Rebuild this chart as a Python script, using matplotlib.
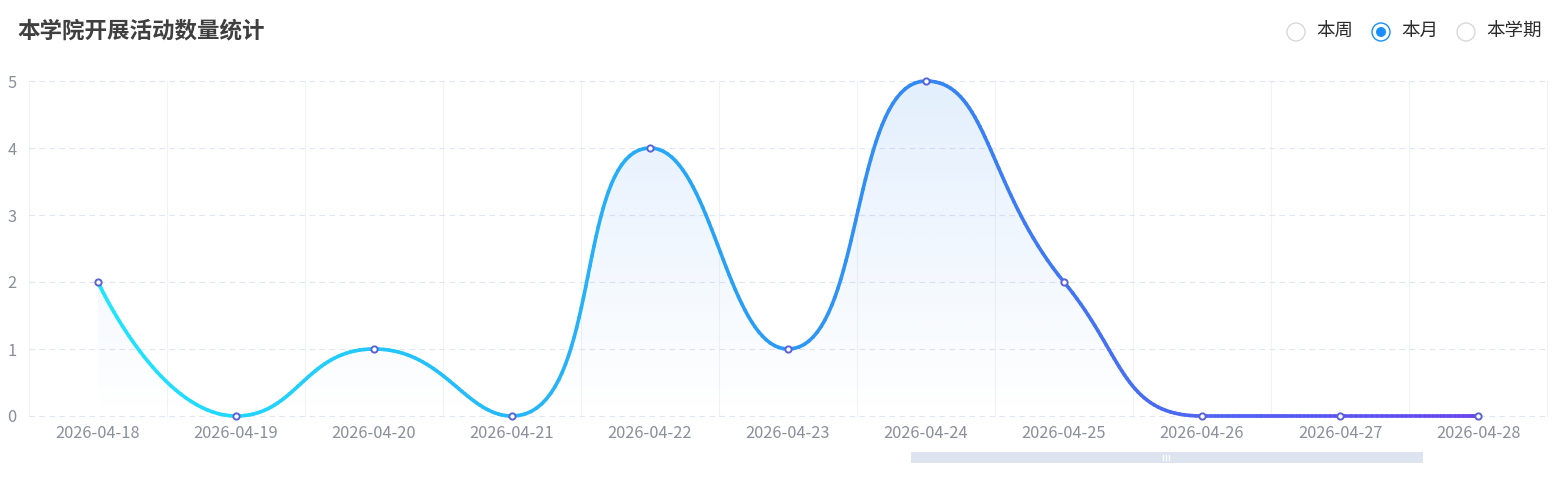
import matplotlib
matplotlib.use('Agg')
import matplotlib.pyplot as plt
import numpy as np
from matplotlib.collections import LineCollection
from matplotlib.colors import LinearSegmentedColormap, to_rgb
from matplotlib.patches import Circle, Rectangle, Polygon

plt.rcParams['font.family'] = ['Noto Sans CJK SC', 'DejaVu Sans']

# data
dates = ['2026-04-18', '2026-04-19', '2026-04-20', '2026-04-21', '2026-04-22',
         '2026-04-23', '2026-04-24', '2026-04-25', '2026-04-26', '2026-04-27',
         '2026-04-28']
counts = [2, 0, 1, 0, 4, 1, 5, 2, 0, 0, 0]
y_ticks = [0, 1, 2, 3, 4, 5]
title = '本学院开展活动数量统计'
radio_labels = ['本周', '本月', '本学期']
radio_selected = 1

W, H = 1556, 482
fig = plt.figure(figsize=(W / 100, H / 100), dpi=100)
fig.patch.set_facecolor('white')

# plot area in pixels: x 29..1547, y(5)=81, y(0)=416
ax = fig.add_axes([29 / W, (H - 416) / H, (1547 - 29) / W, (416 - 81) / H])
ax.set_xlim(-0.5, len(dates) - 0.5)
ax.set_ylim(0, 5)
for s in ax.spines.values():
    s.set_visible(False)

# grids
for k in range(len(dates) + 1):
    ax.axvline(k - 0.5, color='#f1f2f6', lw=0.8, zorder=0, clip_on=False)
for v in y_ticks:
    ax.axhline(v, color='#e0e6f1', lw=0.8, ls=(0, (5, 4)), zorder=0.5, clip_on=False)

ax.set_xticks(range(len(dates)))
ax.set_xticklabels(dates)
ax.set_yticks(y_ticks)
ax.tick_params(length=0, labelcolor='#8a8f9c', labelsize=11.8)
ax.tick_params(axis='x', pad=6.5)
ax.tick_params(axis='y', pad=9)


# echarts-like smooth curve, computed in pixel space
def smooth_path(px, py, smooth=0.5, n_seg=40):
    out_x, out_y = [px[0]], [py[0]]
    cpx0, cpy0 = px[0], py[0]
    n = len(px)
    for i in range(1, n):
        x, y = px[i], py[i]
        prevX, prevY = px[i - 1], py[i - 1]
        nextCpx0, nextCpy0 = x, y
        if i == n - 1:
            cpx1, cpy1 = x, y
        else:
            nextX, nextY = px[i + 1], py[i + 1]
            vx = nextX - prevX
            vy = nextY - prevY
            lenPrev = np.hypot(x - prevX, y - prevY)
            lenNext = np.hypot(nextX - x, nextY - y)
            ratio = lenNext / (lenNext + lenPrev)
            nextCpx0 = x + vx * smooth * ratio
            nextCpy0 = y + vy * smooth * ratio
            nextCpx0 = min(nextCpx0, max(nextX, x))
            nextCpy0 = min(nextCpy0, max(nextY, y))
            nextCpx0 = max(nextCpx0, min(nextX, x))
            nextCpy0 = max(nextCpy0, min(nextY, y))
            vx = nextCpx0 - x
            vy = nextCpy0 - y
            cpx1 = x - vx * lenPrev / lenNext
            cpy1 = y - vy * lenPrev / lenNext
            cpx1 = min(cpx1, max(prevX, x))
            cpy1 = min(cpy1, max(prevY, y))
            cpx1 = max(cpx1, min(prevX, x))
            cpy1 = max(cpy1, min(prevY, y))
            vx = x - cpx1
            vy = y - cpy1
            nextCpx0 = x + vx * lenNext / lenPrev
            nextCpy0 = y + vy * lenNext / lenPrev
        t = np.linspace(0, 1, n_seg)[1:]
        bx = ((1 - t) ** 3 * prevX + 3 * (1 - t) ** 2 * t * cpx0
              + 3 * (1 - t) * t ** 2 * cpx1 + t ** 3 * x)
        by = ((1 - t) ** 3 * prevY + 3 * (1 - t) ** 2 * t * cpy0
              + 3 * (1 - t) * t ** 2 * cpy1 + t ** 3 * y)
        out_x.extend(bx)
        out_y.extend(by)
        cpx0, cpy0 = nextCpx0, nextCpy0
    return np.array(out_x), np.array(out_y)


xs = np.arange(len(counts), dtype=float)
disp = ax.transData.transform(np.column_stack([xs, np.array(counts, float)]))
sx, sy = smooth_path(disp[:, 0], disp[:, 1])
curve = ax.transData.inverted().transform(np.column_stack([sx, sy]))
cx, cy = curve[:, 0], curve[:, 1]

# area gradient fill
fill_rgb = to_rgb('#3a8ef5')
grad = np.zeros((200, 2, 4))
grad[:, :, :3] = fill_rgb
grad[:, :, 3] = np.linspace(0.14, 0.0, 200)[:, None]
im = ax.imshow(grad, extent=(cx[0], cx[-1], 0, 5), origin='upper',
               aspect='auto', zorder=1, interpolation='bilinear')
poly = Polygon(np.vstack([np.column_stack([cx, cy]), [[cx[-1], 0], [cx[0], 0]]]),
               closed=True, transform=ax.transData, facecolor='none', edgecolor='none')
ax.add_patch(poly)
im.set_clip_path(poly)

# gradient line
cmap = LinearSegmentedColormap.from_list(
    'ln', [(0.0, '#1fe6ff'), (0.45, '#27a2f6'), (0.62, '#3683f5'), (1.0, '#6a46ef')])
pts = np.column_stack([cx, cy]).reshape(-1, 1, 2)
segs = np.concatenate([pts[:-1], pts[1:]], axis=1)
tnorm = (cx[:-1] - cx[0]) / (cx[-1] - cx[0])
lc = LineCollection(segs, colors=cmap(tnorm), linewidths=2.6, capstyle='round',
                    zorder=3, clip_on=False)
ax.add_collection(lc)

ax.plot(xs, counts, 'o', ms=4.5, mfc='white', mec='#5a62d6', mew=1.4,
        zorder=4, clip_on=False)

# overlay for title, radio buttons and zoom bar (pixel coordinates)
ov = fig.add_axes([0, 0, 1, 1], zorder=5)
ov.set_xlim(0, W)
ov.set_ylim(H, 0)
ov.axis('off')
ov.patch.set_alpha(0)

ov.text(17, 31, title, fontsize=16.2, fontweight='bold', color='#3f3f3f',
        va='center', ha='left')

radio_x = [1296, 1381, 1466]
for i, (rx, lab) in enumerate(zip(radio_x, radio_labels)):
    if i == radio_selected:
        ov.add_patch(Circle((rx, 32), 9, facecolor='white', edgecolor='#1890ff', lw=1))
        ov.add_patch(Circle((rx, 32), 5, facecolor='#1890ff', edgecolor='none'))
    else:
        ov.add_patch(Circle((rx, 32), 9, facecolor='white', edgecolor='#d9d9d9', lw=1))
    ov.text(rx + 20, 32, lab, fontsize=13.3, color='#2b2b2b', va='center', ha='left')

ov.add_patch(Rectangle((911, 452), 512, 11, facecolor='#dde4f0', edgecolor='none'))
for hx in [1163, 1166, 1169]:
    ov.plot([hx, hx], [455, 460], color='white', lw=0.9)

fig.savefig('out.png', dpi=100, facecolor='white')
